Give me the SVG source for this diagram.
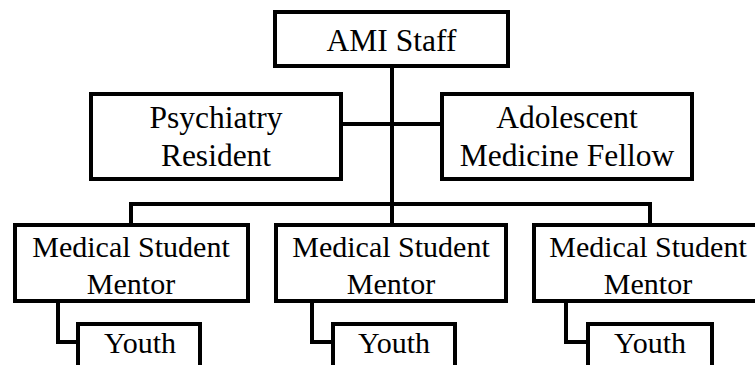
<svg xmlns="http://www.w3.org/2000/svg" width="755" height="365" viewBox="0 0 755 365">
<style>
.box{fill:#fff;stroke:#000;stroke-width:4}
.ln{fill:none;stroke:#000;stroke-width:4;stroke-linejoin:miter;stroke-linecap:square}
text{font-family:"Liberation Serif","Times New Roman",serif;font-size:31.5px;fill:#000;text-anchor:middle}
text.s{font-size:30px}
</style>
<rect width="755" height="365" fill="#fff"/>
<g id="connectors">
<path class="ln" d="M392,68V225"/>
<path class="ln" d="M343,124H440"/>
<path class="ln" d="M131,225V204H650V225"/>
<path class="ln" d="M58,303V342H77"/>
<path class="ln" d="M312,303V342H333"/>
<path class="ln" d="M566,303V342H588"/>
</g>
<g id="ami"><rect class="box" x="275" y="12" width="233" height="54"/><text x="391.5" y="51">AMI Staff</text></g>
<g id="psych"><rect class="box" x="91" y="94" width="250" height="85"/><text x="216" y="128">Psychiatry</text><text x="216" y="166">Resident</text></g>
<g id="adol"><rect class="box" x="442" y="94" width="250" height="85"/><text x="567" y="128">Adolescent</text><text x="567" y="166">Medicine Fellow</text></g>
<g id="mentor1"><rect class="box" x="15" y="225" width="233" height="76"/><text class="s" x="131" y="257">Medical Student</text><text class="s" x="131" y="294">Mentor</text></g>
<g id="mentor2"><rect class="box" x="276" y="225" width="230" height="76"/><text class="s" x="391" y="257">Medical Student</text><text class="s" x="391" y="294">Mentor</text></g>
<g id="mentor3"><rect class="box" x="534" y="225" width="232" height="76"/><text class="s" x="648" y="257">Medical Student</text><text class="s" x="648" y="294">Mentor</text></g>
<g id="youth1"><rect class="box" x="78" y="324" width="122" height="60"/><text class="s" x="140" y="353">Youth</text></g>
<g id="youth2"><rect class="box" x="333" y="324" width="122" height="60"/><text class="s" x="394" y="353">Youth</text></g>
<g id="youth3"><rect class="box" x="588" y="324" width="124" height="60"/><text class="s" x="650" y="353">Youth</text></g>
</svg>
